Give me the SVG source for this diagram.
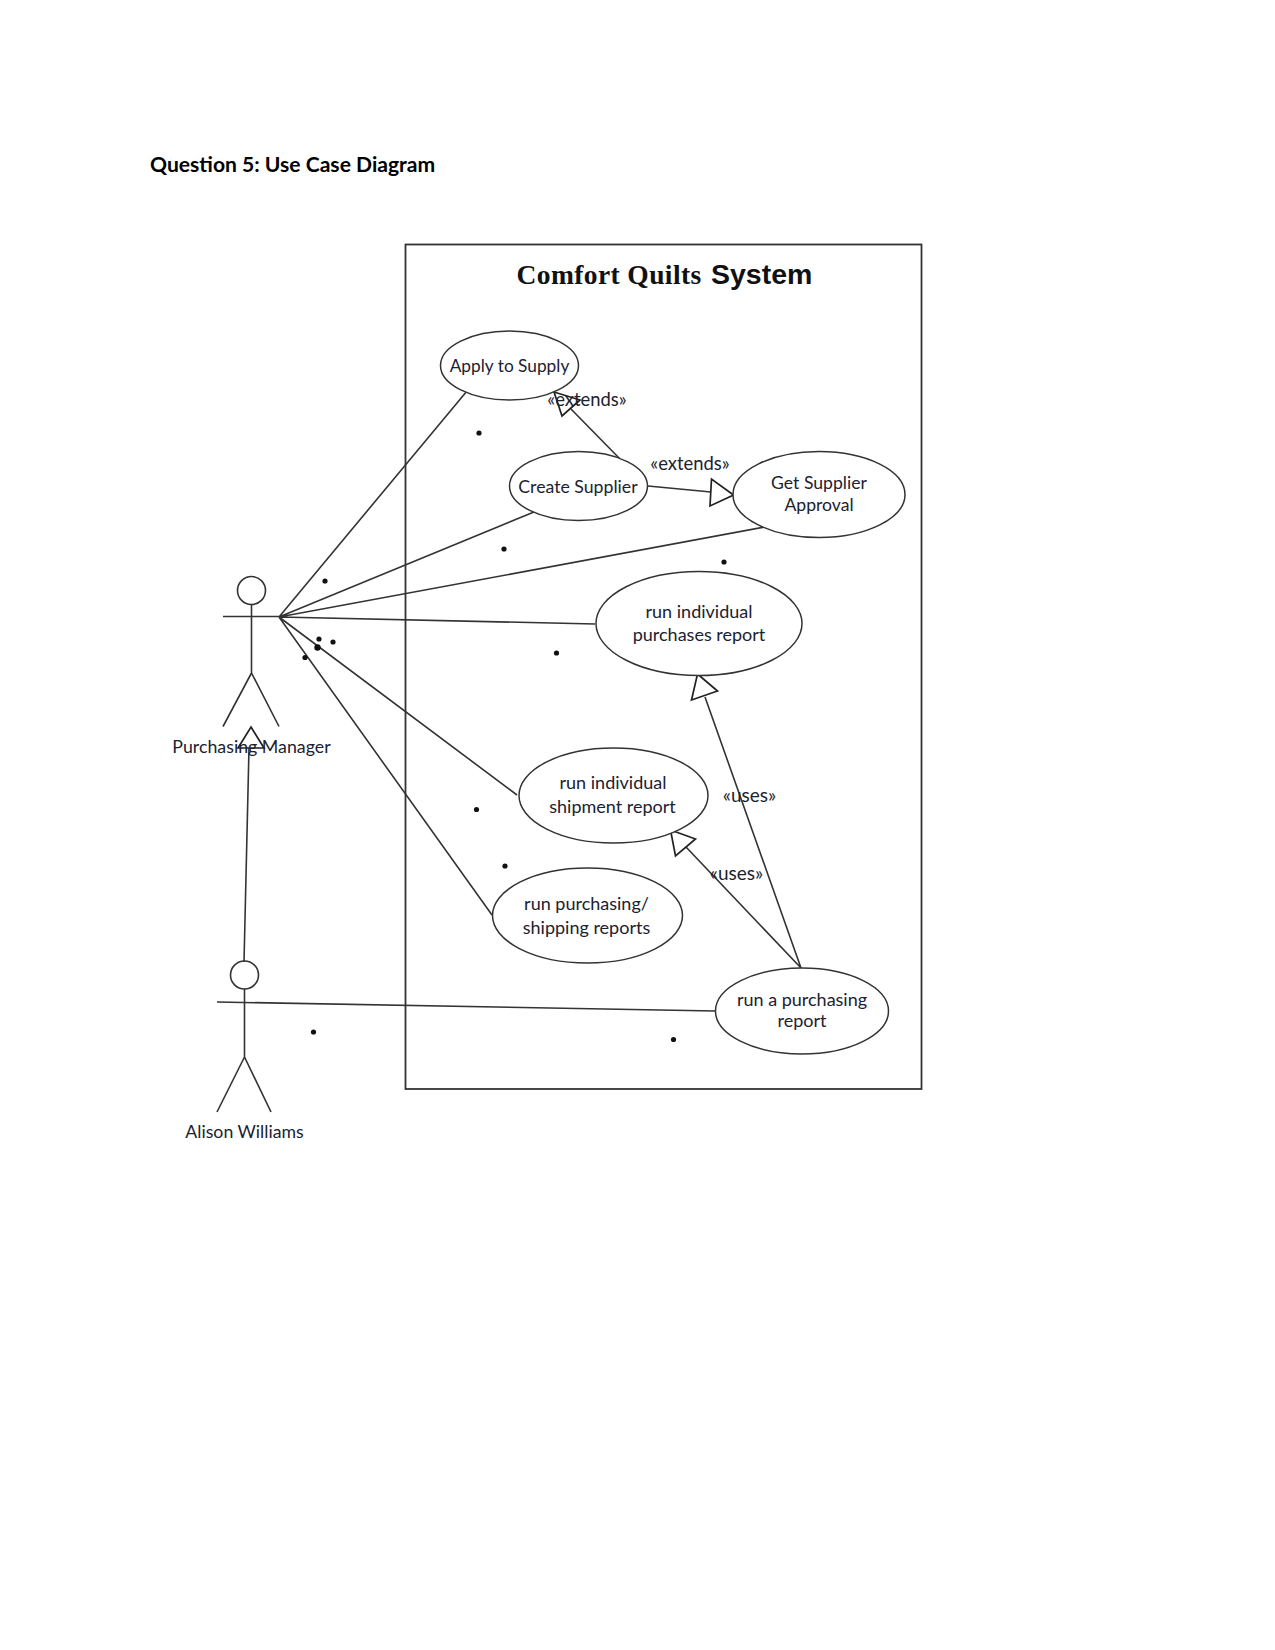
<svg xmlns="http://www.w3.org/2000/svg" width="1275" height="1650" viewBox="0 0 1275 1650">
<style>
text{font-family:"Lato","Carlito","Liberation Sans",sans-serif;font-size:18px;fill:#1c2230;text-anchor:middle}
.n{fill:#fff;stroke:#333;stroke-width:1.5}
.l{fill:none;stroke:#333;stroke-width:1.6}
.h{fill:#fff;stroke:#222;stroke-width:1.7}
.d{fill:#111}
#heading{font-size:21.1px;font-weight:700;fill:#000;text-anchor:start}
</style>
<rect width="1275" height="1650" fill="#fff"/>
<text id="heading" x="150" y="172">Question 5: Use Case Diagram</text>
<g id="system">
<rect x="405.500" y="244.500" width="516" height="844.500" fill="none" stroke="#333" stroke-width="1.8"/>
<text x="516.500" y="284" style="font-size:27.500px;font-weight:700;fill:#111;text-anchor:start;font-family:'Liberation Serif',serif;letter-spacing:.4px">Comfort Quilts</text>
<text x="711" y="284" style="font-size:28.500px;font-weight:700;fill:#111;text-anchor:start;font-family:'Liberation Sans',sans-serif">System</text>
</g>
<g id="connectors">
<path class="l" d="M279 617L467 391M279 617L534 512M279 617L765 527M279 617L595 624M279 617L517 795M279 617L492 915M217 1002L715 1011M244 962L249 748"/>
<path class="l" d="M620 459L571 409M648 486L711 492M801 968L705 697M801 968L686 847"/>
<path class="h" d="M251 727L264 748L238 748Z"/>
<path class="h" d="M554 392L580 400L562 416Z"/>
<path class="h" d="M733.500 495L711.500 479L710 506Z"/>
<path class="h" d="M697.500 674L717.500 691L691.500 700Z"/>
<path class="h" d="M670.500 830L695.500 839L675.500 856Z"/>
</g>
<g id="apply"><ellipse class="n" cx="509.500" cy="365.500" rx="69" ry="34.500"/><text x="509.500" y="372" style="font-size:17.300px">Apply to Supply</text></g>
<g id="create"><ellipse class="n" cx="578.500" cy="486" rx="69" ry="34.500"/><text x="578" y="493" style="font-size:17.700px">Create Supplier</text></g>
<g id="approval"><ellipse class="n" cx="819" cy="494.500" rx="86" ry="43"/><text x="819" y="489" style="font-size:17.600px">Get Supplier</text><text x="819" y="511" style="font-size:17.600px">Approval</text></g>
<g id="purchases"><ellipse class="n" cx="699" cy="623.500" rx="103" ry="52"/><text x="699" y="617.500">run individual</text><text x="699" y="641">purchases report</text></g>
<g id="shipment"><ellipse class="n" cx="613.500" cy="795.500" rx="94.500" ry="47.500"/><text x="613" y="789">run individual</text><text x="612.500" y="813">shipment report</text></g>
<g id="reports"><ellipse class="n" cx="587.500" cy="915.500" rx="95" ry="47.500"/><text x="586.500" y="910">run purchasing/</text><text x="586.500" y="934">shipping reports</text></g>
<g id="purchasing"><ellipse class="n" cx="802" cy="1011" rx="86.500" ry="43"/><text x="802" y="1005.500">run a purchasing</text><text x="802" y="1027">report</text></g>
<g id="manager">
<circle class="l" cx="251.500" cy="590.500" r="14"/>
<path class="l" d="M251.500 604.500V673M223 616.500H279M251.500 673L223 726.500M251.500 673L279 726.500"/>
<text x="251.500" y="753" style="font-size:17.800px">Purchasing Manager</text>
</g>
<g id="alison">
<circle class="l" cx="244.500" cy="975" r="14"/>
<path class="l" d="M244.500 989V1057M244.500 1057L217 1112M244.500 1057L271 1112"/>
<text x="244.500" y="1138" style="font-size:17.700px">Alison Williams</text>
</g>
<g id="labels">
<text x="587" y="406" style="font-size:18.400px">«extends»</text>
<text x="690" y="470" style="font-size:18.400px">«extends»</text>
<text x="749.500" y="802" style="font-size:19px">«uses»</text>
<text x="736.500" y="880" style="font-size:19px">«uses»</text>
</g>
<g id="dots">
<circle class="d" cx="479" cy="433" r="2.600"/><circle class="d" cx="504" cy="549" r="2.600"/><circle class="d" cx="724" cy="562" r="2.600"/><circle class="d" cx="325" cy="581" r="2.600"/><circle class="d" cx="556.500" cy="653" r="2.600"/><circle class="d" cx="319" cy="639" r="2.600"/><circle class="d" cx="333" cy="642" r="2.600"/><circle class="d" cx="317.500" cy="647.500" r="3.200"/><circle class="d" cx="305" cy="657.500" r="2.600"/><circle class="d" cx="476.500" cy="809.500" r="2.600"/><circle class="d" cx="505" cy="866" r="2.600"/><circle class="d" cx="313.500" cy="1032" r="2.600"/><circle class="d" cx="673.500" cy="1039.500" r="2.600"/>
</g>
</svg>
